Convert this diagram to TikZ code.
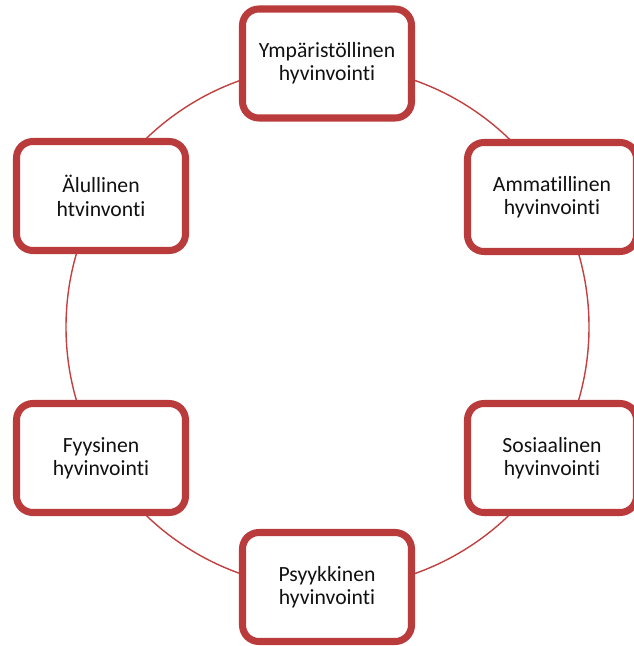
\documentclass[tikz,border=0pt]{standalone}
\usepackage{fontspec}
\setmainfont[Ligatures=NoCommon]{Carlito}
\usetikzlibrary{positioning, calc}
\definecolor{wellred}{HTML}{B93B3B}
\definecolor{ringred}{HTML}{C2403F}
\definecolor{welltext}{HTML}{111111}

\begin{document}
\begin{tikzpicture}[
    x=0.03cm, y=-0.03cm,
    wellbox/.style={
        rectangle,
        rounded corners=14pt,
        minimum width=5.07cm,
        minimum height=3.27cm,
        draw=wellred,
        line width=6pt,
        fill=white,
        align=center,
        text=welltext,
        font=\fontsize{18.5}{20}\selectfont
    },
    ring/.style={
        draw=ringred,
        line width=1.2pt
    }
]

\useasboundingbox (0,0) rectangle (633,646);

% Ring behind the boxes
\coordinate (centre) at (327.5,327);
\draw[ring] (centre) circle[radius=261.5*0.03cm];

% Boxes round the ring
\node[wellbox] (ymparisto) at (327,63.5) {Ympäristöllinen\\hyvinvointi};
\node[wellbox] (ammatti) at (552,197) {Ammatillinen\\hyvinvointi};
\node[wellbox] (sosiaali) at (552,458) {Sosiaalinen\\hyvinvointi};
\node[wellbox] (psyyke) at (327,587) {Psyykkinen\\hyvinvointi};
\node[wellbox] (fyysinen) at (101,458) {Fyysinen\\hyvinvointi};
\node[wellbox] (alyllinen) at (101,196) {Älullinen\\htvinvonti};

\end{tikzpicture}
\end{document}
